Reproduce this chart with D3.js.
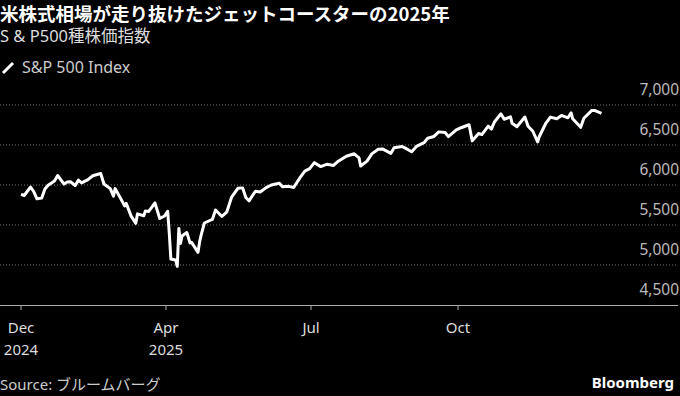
<!DOCTYPE html>
<html>
<head>
<meta charset="utf-8">
<script src="https://d3js.org/d3.v7.min.js"></script>
<style>
  body { margin: 0; background: #000; }
  text { font-family: "Noto Sans", "Noto Sans CJK JP", sans-serif; }
</style>
</head>
<body>
<script>

// S&P 500 closes
let dates = ["2024-12-31","2025-01-02","2025-01-06","2025-01-08","2025-01-10","2025-01-13","2025-01-15","2025-01-17","2025-01-21","2025-01-23","2025-01-27","2025-01-29","2025-01-31",
  "2025-02-03","2025-02-05","2025-02-07","2025-02-11","2025-02-14","2025-02-19","2025-02-21","2025-02-25","2025-02-27","2025-02-28",
  "2025-03-03","2025-03-06","2025-03-07","2025-03-10","2025-03-13","2025-03-14","2025-03-18","2025-03-19","2025-03-21","2025-03-25","2025-03-28","2025-03-31",
  "2025-04-02","2025-04-03","2025-04-04","2025-04-07","2025-04-08","2025-04-09","2025-04-10","2025-04-11","2025-04-14","2025-04-16","2025-04-17","2025-04-21","2025-04-22","2025-04-23","2025-04-25","2025-04-30",
  "2025-05-02","2025-05-06","2025-05-09","2025-05-12","2025-05-16","2025-05-19","2025-05-21","2025-05-23","2025-05-27","2025-05-30",
  "2025-06-03","2025-06-06","2025-06-11","2025-06-13","2025-06-17","2025-06-20","2025-06-24","2025-06-27","2025-06-30",
  "2025-07-03","2025-07-07","2025-07-11","2025-07-15","2025-07-18","2025-07-23","2025-07-28","2025-07-31",
  "2025-08-01","2025-08-05","2025-08-08","2025-08-12","2025-08-15","2025-08-20","2025-08-22","2025-08-27","2025-08-29",
  "2025-09-02","2025-09-05","2025-09-10","2025-09-12","2025-09-16","2025-09-19","2025-09-23","2025-09-25","2025-09-30",
  "2025-10-03","2025-10-08","2025-10-10","2025-10-14","2025-10-16","2025-10-20","2025-10-22","2025-10-24","2025-10-28","2025-10-30",
  "2025-11-03","2025-11-04","2025-11-07","2025-11-12","2025-11-14","2025-11-17","2025-11-20","2025-11-21","2025-11-25","2025-11-28",
  "2025-12-02","2025-12-05","2025-12-09","2025-12-11","2025-12-12","2025-12-17","2025-12-19","2025-12-24","2025-12-26","2025-12-29","2025-12-30"];

let values = [5882,5869,5975,5918,5827,5836,5950,5997,6049,6119,6012,6039,6041,
  5994,6061,6026,6068,6115,6144,6013,5955,5861,5955,
  5849,5739,5770,5614,5521,5639,5615,5675,5668,5777,5581,5612,
  5671,5396,5074,5062,4983,5457,5268,5363,5406,5276,5283,5158,5288,5376,5525,5569,
  5687,5607,5660,5844,5958,5964,5845,5802,5922,5912,
  5970,6000,6022,5977,5983,5968,6092,6173,6205,
  6279,6230,6260,6244,6297,6359,6390,6339,
  6238,6299,6389,6446,6449,6396,6467,6481,6460,
  6416,6482,6532,6584,6607,6664,6656,6605,6688,
  6716,6753,6552,6644,6630,6735,6699,6791,6890,6822,
  6852,6771,6729,6850,6734,6672,6538,6603,6766,6849,
  6829,6870,6840,6901,6827,6721,6834,6932,6930,6905,6896];

let yTicks = [4500, 5000, 5500, 6000, 6500, 7000];
let xTicks = ["2024-12-31", "2025-04-01", "2025-07-01", "2025-10-01"];
let xLabels = [["Dec", "2024"], ["Apr", "2025"], ["Jul", ""], ["Oct", ""]];

let width = 680, height = 396;
let parse = d3.timeParse("%Y-%m-%d");
let data = dates.map((d, i) => ({date: parse(d), value: values[i]}));

let x = d3.scaleTime()
  .domain([parse("2024-12-31"), parse("2025-12-31")])
  .range([21, 603]);
let y = d3.scaleLinear()
  .domain([4500, 7000])
  .range([305, 105]);

let svg = d3.select("body").append("svg").attr("width", width).attr("height", height);

// titles
svg.append("text").attr("x", 0).attr("y", 21)
  .attr("fill", "#fff").style("font-size", "18.5px").style("font-weight", "bold")
  .style("font-family", "'Noto Sans CJK JP', sans-serif")
  .text("米株式相場が走り抜けたジェットコースターの2025年");
svg.append("text").attr("x", 0).attr("y", 42)
  .attr("fill", "#ddd").style("font-size", "16.5px")
  .text("S & P500種株価指数");

// legend
svg.append("line").attr("x1", 3).attr("y1", 73).attr("x2", 13).attr("y2", 63)
  .attr("stroke", "#fff").attr("stroke-width", 3);
svg.append("text").attr("x", 22).attr("y", 73)
  .attr("fill", "#ccc").style("font-size", "16px")
  .text("S&P 500 Index");

// gridlines + y labels
svg.append("g").selectAll("line")
  .data(yTicks.filter(d => d > 4500))
  .enter().append("line")
  .attr("x1", 0).attr("x2", 678)
  .attr("y1", d => y(d)).attr("y2", d => y(d))
  .attr("stroke", "#777").attr("stroke-width", 1).attr("stroke-dasharray", "1,2");

svg.append("g").selectAll("text")
  .data(yTicks)
  .enter().append("text")
  .attr("x", 679).attr("y", d => y(d) - 10)
  .attr("text-anchor", "end").attr("fill", "#bbb").style("font-size", "15.5px")
  .text(d3.format(","));

// x axis
svg.append("line").attr("x1", 0).attr("x2", 678).attr("y1", 305.5).attr("y2", 305.5)
  .attr("stroke", "#aaa").attr("stroke-width", 1);

let xt = svg.append("g").selectAll("g")
  .data(xTicks)
  .enter().append("g")
  .attr("transform", d => "translate(" + Math.round(x(parse(d))) + ",0)");
xt.append("line").attr("y1", 305).attr("y2", 310).attr("stroke", "#aaa");
xt.append("text").attr("y", 333).attr("text-anchor", "middle")
  .attr("fill", "#ddd").style("font-size", "15px")
  .text((d, i) => xLabels[i][0]);
xt.append("text").attr("y", 355).attr("text-anchor", "middle")
  .attr("fill", "#ddd").style("font-size", "15px")
  .text((d, i) => xLabels[i][1]);

// line
svg.append("path")
  .datum(data)
  .attr("d", d3.line().x(d => x(d.date)).y(d => y(d.value)))
  .attr("fill", "none").attr("stroke", "#fff").attr("stroke-width", 3)
  .attr("stroke-linejoin", "round");

// footer
svg.append("text").attr("x", 0).attr("y", 390)
  .attr("fill", "#ccc").style("font-size", "15px")
  .text("Source: ブルームバーグ");
svg.append("text").attr("x", 674).attr("y", 388)
  .attr("text-anchor", "end").attr("fill", "#fff")
  .style("font-size", "15px").style("font-weight", "bold")
  .text("Bloomberg");

</script>
</body>
</html>
